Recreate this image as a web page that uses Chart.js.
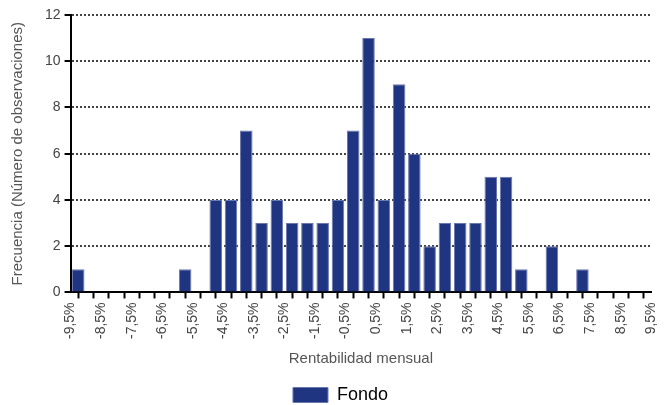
<!DOCTYPE html>
<html>
<head>
<meta charset="utf-8">
<script src="https://cdn.jsdelivr.net/npm/chart.js@4.4.0/dist/chart.umd.min.js"></script>
<style>
  html, body { margin: 0; padding: 0; background: #fff; }
  #wrap { width: 672px; height: 405px; }
</style>
</head>
<body>
<div id="wrap"><canvas id="histo"></canvas></div>
<script>
// centro de cada intervalo de 0,5% (rentabilidad mensual)
const binCentres = [-9.25, -8.75, -8.25, -7.75, -7.25, -6.75, -6.25, -5.75, -5.25, -4.75,
                    -4.25, -3.75, -3.25, -2.75, -2.25, -1.75, -1.25, -0.75, -0.25, 0.25,
                    0.75, 1.25, 1.75, 2.25, 2.75, 3.25, 3.75, 4.25, 4.75, 5.25,
                    5.75, 6.25, 6.75, 7.25, 7.75, 8.25, 8.75, 9.25];
// numero de observaciones por intervalo
const fondo = [1, 0, 0, 0, 0, 0, 0, 1, 0, 4,
               4, 7, 3, 4, 3, 3, 3, 4, 7, 11,
               4, 9, 6, 2, 3, 3, 3, 5, 5, 1,
               0, 2, 0, 1, 0, 0, 0, 0];
const xTickLabels = ['-9,5%', '-8,5%', '-7,5%', '-6,5%', '-5,5%', '-4,5%', '-3,5%', '-2,5%', '-1,5%', '-0,5%',
                     '0,5%', '1,5%', '2,5%', '3,5%', '4,5%', '5,5%', '6,5%', '7,5%', '8,5%', '9,5%'];
const yTicks = [0, 2, 4, 6, 8, 10, 12];

const FONT = 'Liberation Sans, Arial, sans-serif';
const navy = '#1f3581';

new Chart(document.getElementById('histo'), {
  type: 'bar',
  data: {
    datasets: [{
      label: 'Fondo',
      data: binCentres.map((x, i) => ({ x: x, y: fondo[i] })),
      backgroundColor: navy,
      borderColor: '#6a78b0',
      borderWidth: 1,
      barPercentage: 0.82,
      categoryPercentage: 1
    }]
  },
  options: {
    responsive: true,
    maintainAspectRatio: false,
    animation: false,
    layout: { padding: { top: 15, right: 0, left: 9, bottom: -9 } },
    plugins: {
      tooltip: { enabled: false },
      legend: {
        position: 'bottom',
        labels: {
          color: '#000',
          font: { family: FONT, size: 18 },
          boxWidth: 35,
          boxHeight: 15,
          padding: 2
        }
      }
    },
    scales: {
      x: {
        type: 'linear',
        min: -9.5,
        max: 9.5,
        offset: false,
        border: { display: true, color: '#000', width: 2 },
        grid: { drawOnChartArea: false, drawTicks: true, tickLength: 6, tickColor: '#000', tickWidth: 2 },
        ticks: {
          stepSize: 0.5,
          autoSkip: false,
          minRotation: 90,
          maxRotation: 90,
          color: '#444',
          padding: 4,
          font: { family: FONT, size: 14 },
          callback: (v, i) => (i % 2 === 0 ? xTickLabels[i / 2] : '')
        },
        title: {
          display: true,
          text: 'Rentabilidad mensual',
          color: '#555',
          font: { family: FONT, size: 15 },
          padding: { top: 7, bottom: 16 }
        }
      },
      y: {
        min: 0,
        max: 12,
        border: { display: true, color: '#000', width: 2, dash: [2, 2] },
        grid: {
          color: '#444',
          lineWidth: 2,
          tickColor: '#000',
          tickBorderDash: [],
          tickLength: 6,
          tickWidth: 2
        },
        afterBuildTicks: (axis) => { axis.ticks = yTicks.map(v => ({ value: v })); },
        ticks: {
          color: '#444',
          padding: 4,
          font: { family: FONT, size: 14 }
        },
        title: {
          display: true,
          text: 'Frecuencia (Número de observaciones)',
          color: '#555',
          font: { family: FONT, size: 15 },
          padding: { top: 0, bottom: 14 }
        }
      }
    }
  }
});
</script>
</body>
</html>
